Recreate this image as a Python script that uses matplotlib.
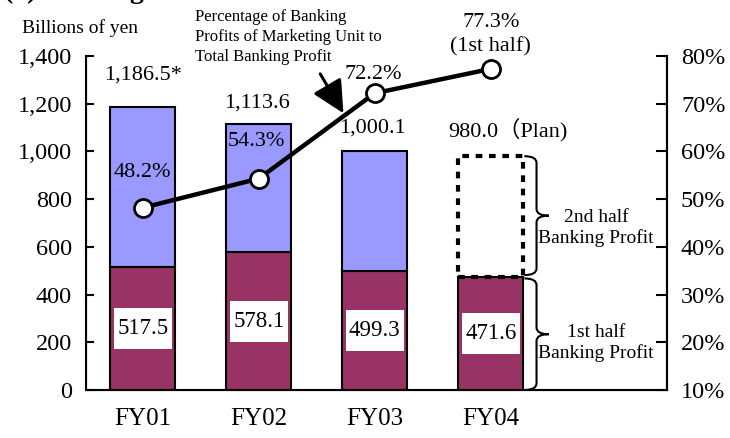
import numpy as np
import matplotlib.pyplot as plt
from matplotlib.path import Path
from matplotlib.patches import PathPatch, Rectangle

plt.rcParams['font.family'] = ['Liberation Serif', 'Noto Sans CJK JP']

# datos
years = ['FY01', 'FY02', 'FY03', 'FY04']
first_half = [517.5, 578.1, 499.3, 471.6]
totals = [1186.5, 1113.6, 1000.1, 980.0]
total_labels = ['1,186.5*', '1,113.6', '1,000.1', '980.0（Plan)']
pct = [48.2, 54.3, 72.2, 77.3]
pct_labels = ['48.2%', '54.3%', '72.2%', '77.3%\n(1st half)']

maroon = '#993366'
lilac = '#9999FF'
w = 0.56


def brace(ax, x0, y0, y1, width, r):
    # llave "}" entre y0 (abajo) y y1 (arriba)
    xm = x0 + width / 2
    ym = (y0 + y1) / 2
    verts = [(x0, y1), (xm, y1), (xm, y1 - r),
             (xm, ym + r),
             (xm, ym), (x0 + width, ym),
             (xm, ym), (xm, ym - r),
             (xm, y0 + r),
             (xm, y0), (x0, y0)]
    codes = [Path.MOVETO, Path.CURVE3, Path.CURVE3,
             Path.LINETO,
             Path.CURVE3, Path.CURVE3,
             Path.CURVE3, Path.CURVE3,
             Path.LINETO,
             Path.CURVE3, Path.CURVE3]
    ax.add_patch(PathPatch(Path(verts, codes), fill=False, lw=1.5,
                           color='black', clip_on=False, zorder=5))


fig = plt.figure(figsize=(7.3, 4.38), dpi=100)
ax = fig.add_axes([86 / 730, 48 / 438, 581 / 730, 334 / 438])
x = np.arange(len(years))

second_half = [t - f for t, f in zip(totals, first_half)]

# barras (FY04 segunda mitad es plan -> punteada)
ax.bar(x, first_half, w, color=maroon, edgecolor='black', lw=1.5, zorder=2)
ax.bar(x[:3], second_half[:3], w, bottom=first_half[:3], color=lilac,
       edgecolor='black', lw=1.5, zorder=2)
ax.add_patch(Rectangle((x[3] - w / 2, first_half[3]), w, second_half[3],
                       fill=False, ls=(0, (1.6, 1.6)), lw=3, ec='black', zorder=2))

# cajas blancas con el valor de la primera mitad
box_w, box_h = 0.5, 172
for i in range(len(years)):
    yc = first_half[i] / 2
    ax.add_patch(Rectangle((x[i] - box_w / 2, yc - box_h / 2), box_w, box_h,
                           fc='white', ec='none', zorder=3))
    ax.text(x[i], yc, f'{first_half[i]:.1f}', ha='center', va='center',
            fontsize=16.5, zorder=6)

tot_dx = [0, -2, -2, 17]
tot_dy = [32, 21, 23, 26]
for i in range(len(years)):
    ax.annotate(total_labels[i], (x[i], totals[i]), xytext=(tot_dx[i], tot_dy[i]),
                textcoords='offset pixels', ha='center', va='center', fontsize=16)

ax.set_xlim(-0.49, 4.52)
ax.set_ylim(0, 1400)
ax.set_yticks(np.arange(0, 1401, 200))
ax.set_yticklabels([f'{v:,}' for v in range(0, 1401, 200)])
ax.set_xticks(x)
ax.set_xticklabels(years)
ax.tick_params(axis='y', direction='in', length=6, width=1.5, labelsize=17.5, pad=10)
ax.tick_params(axis='x', length=0, labelsize=18, pad=13)
ax.spines['top'].set_visible(False)
for s in ['left', 'right', 'bottom']:
    ax.spines[s].set_linewidth(1.5)

# eje derecho con el porcentaje
ax2 = ax.twinx()
ax2.set_ylim(10, 80)
ax2.set_yticks(np.arange(10, 81, 10))
ax2.set_yticklabels([f'{v}%' for v in range(10, 81, 10)])
ax2.tick_params(axis='y', direction='in', length=8, width=1.5, labelsize=17.5, pad=10)
ax2.spines['top'].set_visible(False)
ax2.spines['right'].set_linewidth(1.5)
ax2.plot(x, pct, color='black', lw=3.2, marker='o', ms=13, mfc='white',
         mec='black', mew=2, zorder=5)

pct_dx = [0, -2, -2, 0]
pct_dy = [35, 37, 19, 34]
for i in range(len(years)):
    ax2.annotate(pct_labels[i], (x[i], pct[i]), xytext=(pct_dx[i], pct_dy[i]),
                 textcoords='offset pixels', ha='center', va='center',
                 fontsize=16, linespacing=1.35)

# llaves de la derecha
ax2.set_zorder(ax.get_zorder() + 1)
ax2.patch.set_visible(False)
brace(ax, x[3] + w / 2 + 0.01, first_half[3] + 10, totals[3], 0.21, 28)
brace(ax, x[3] + w / 2 + 0.01, 0, first_half[3] - 4, 0.21, 28)
ax.text(3.91, 679, '2nd half\nBanking Profit', ha='center', va='center',
        fontsize=14, linespacing=1.25)
ax.text(3.91, 197, '1st half\nBanking Profit', ha='center', va='center',
        fontsize=14, linespacing=1.25)

# flecha hacia la linea
ax.annotate('', xy=(1.73, 1160), xytext=(1.53, 1325),
            arrowprops=dict(arrowstyle='-|>,head_length=0.9,head_width=0.45',
                            lw=2.2, color='black', mutation_scale=22,
                            shrinkA=0, shrinkB=0))

fig.text(80 / 730, 1 - 28 / 438, 'Billions of yen', ha='center', va='center',
         fontsize=14)
fig.text(195 / 730, 1 - 37 / 438,
         'Percentage of Banking\nProfits of Marketing Unit to\nTotal Banking Profit',
         ha='left', va='center', fontsize=12, linespacing=1.35)
# titulo cortado arriba, solo se ven los trazos de abajo
fig.text(0.005, 1 + 2 / 438, '(2) Banking Profit', ha='left', va='baseline',
         fontsize=20, fontweight='bold')

fig.savefig('out.png', dpi=100)
